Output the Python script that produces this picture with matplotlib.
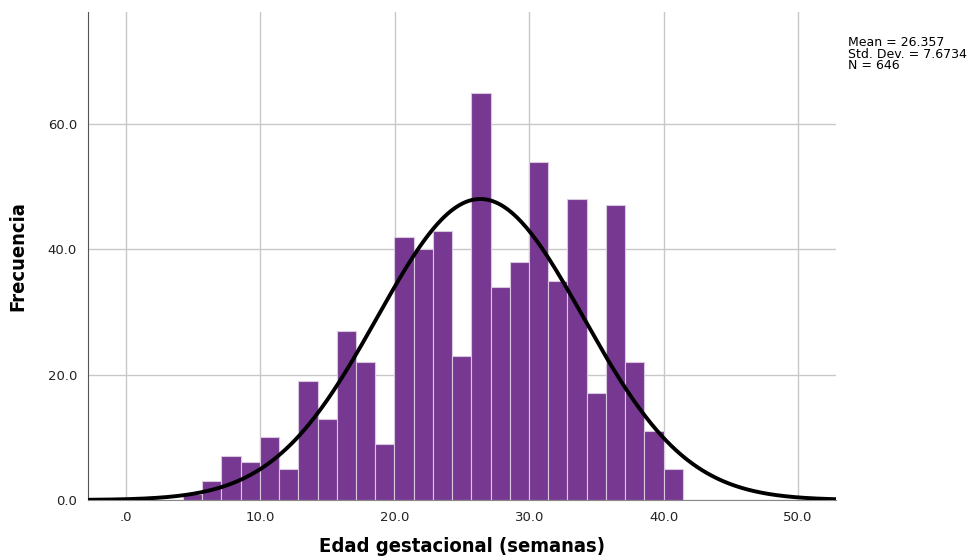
import numpy as np
import matplotlib.pyplot as plt

# histogram counts (bin width ~1.43 weeks)
counts = [1, 3, 7, 6, 10, 5, 19, 13, 27, 22, 9, 42, 40, 43, 23, 65, 34, 38,
          54, 35, 48, 17, 47, 22, 11, 5]
bin_start = 4.24
bin_width = 1.43
mean = 26.357
std = 7.6734
n = 646
x_ticks = [0, 10, 20, 30, 40, 50]
x_labels = ['.0', '10.0', '20.0', '30.0', '40.0', '50.0']
y_ticks = [0, 20, 40, 60]
y_labels = ['0.0', '20.0', '40.0', '60.0']

edges = bin_start + bin_width * np.arange(len(counts))

fig = plt.figure(figsize=(9.8, 5.56), dpi=100)
ax = fig.add_axes([0.0898, 0.1007, 0.763, 0.877])

ax.bar(edges, counts, width=bin_width, align='edge', color='#763890',
       edgecolor='#d9c8e0', linewidth=0.8, zorder=2)

# fitted normal curve scaled to counts
xs = np.linspace(-3, 53, 500)
ys = n * bin_width / (std * np.sqrt(2 * np.pi)) * np.exp(-(xs - mean) ** 2 / (2 * std ** 2))
ax.plot(xs, ys, color='black', linewidth=2.8, zorder=3)

ax.set_xlim(-2.83, 52.8)
ax.set_ylim(0, 77.8)
ax.set_xticks(x_ticks)
ax.set_xticklabels(x_labels)
ax.set_yticks(y_ticks)
ax.set_yticklabels(y_labels)
ax.tick_params(length=0, labelsize=9.5, colors='#222222', pad=8)
ax.grid(True, color='#c8c8c8', linewidth=1, zorder=0)
ax.set_axisbelow(True)

for s in ['top', 'right']:
    ax.spines[s].set_visible(False)
ax.spines['left'].set_color('#555555')
ax.spines['bottom'].set_color('#888888')

lab_font = dict(family='DejaVu Sans', stretch='condensed', fontweight='bold', fontsize=14.5)
fig.text(462 / 980, 1 - 547 / 556, 'Edad gestacional (semanas)', ha='center', va='center', **lab_font)
fig.text(18 / 980, 1 - 256 / 556, 'Frecuencia', ha='center', va='center', rotation=90, **lab_font)

fig.text(0.865, 0.935, 'Mean = 26.357\nStd. Dev. = 7.6734\nN = 646',
         fontsize=9, va='top', ha='left', linespacing=0.85)

fig.savefig('out.png', dpi=100)
